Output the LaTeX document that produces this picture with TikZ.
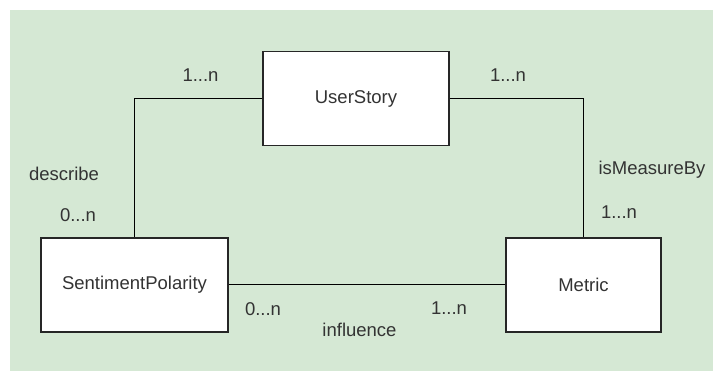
\documentclass[tikz,border=0pt]{standalone}
\usepackage{fontspec}
\setmainfont{Liberation Sans}
\usetikzlibrary{positioning}
\definecolor{bggreen}{HTML}{D5E8D4}
\definecolor{txtgray}{HTML}{333333}

\begin{document}
\begin{tikzpicture}[x=1pt,y=-1pt,font=\fontsize{18.5}{22}\selectfont]
        \tikzstyle{entity}=[draw=black!85,line width=1.3pt,fill=white,text=txtgray,minimum height=94pt,inner sep=0pt]
        \tikzstyle{lbl}=[text=txtgray,inner sep=0pt]
        \tikzstyle{link}=[line width=1pt]

        \useasboundingbox (0,0) rectangle (713,371);
        \fill[bggreen] (10,10) rectangle (713,371);

        \node[entity,minimum width=186pt]  (US) at (356,98.5)  {UserStory};
        \node[entity,minimum width=187pt]  (SP) at (134.5,285) {SentimentPolarity};
        \node[entity,minimum width=155pt]  (ME) at (583.5,285) {Metric};

        \node[lbl]  (C01) at (200.5,75)  {1...n}; % describe
        \node[lbl]  (R01) at (64,174)    {describe};
        \node[lbl]  (C02) at (78,215)    {0...n};
        \node[lbl]  (C03) at (508,75)    {1...n}; % isMeasureBy
        \node[lbl]  (R02) at (652,170)   {isMeasureBy};
        \node[lbl]  (C04) at (619,212)   {1...n};
        \node[lbl]  (C05) at (263,309)   {0...n}; % influence
        \node[lbl]  (R03) at (359.5,330) {influence};
        \node[lbl]  (C06) at (449,308)   {1...n};

        \draw[link] (US.west) -| (SP.north);
        \draw[link] (US.east) -| (ME.north);
        \draw[link] (SP.east) -- (ME.west);
\end{tikzpicture}
\end{document}
